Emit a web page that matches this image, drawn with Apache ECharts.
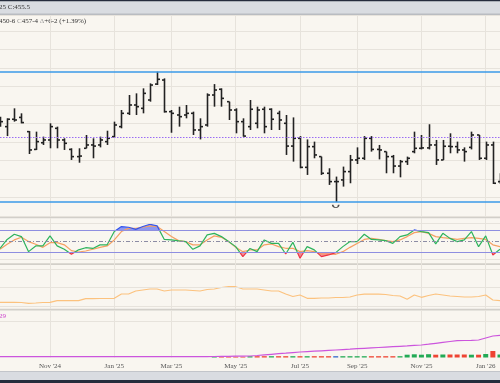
<!DOCTYPE html>
<html><head><meta charset="utf-8">
<script src="https://cdn.jsdelivr.net/npm/echarts@6/dist/echarts.min.js"></script>
<style>html,body{margin:0;padding:0;background:#f9f6f0}#c{width:500px;height:383px}</style>
</head><body><div id="c"></div><script>
const weeks = ['2024-09-16','2024-09-23','2024-09-30','2024-10-07','2024-10-14','2024-10-21','2024-10-28','2024-11-04','2024-11-11','2024-11-18','2024-11-25','2024-12-02','2024-12-09','2024-12-16','2024-12-23','2024-12-30','2025-01-06','2025-01-13','2025-01-20','2025-01-27','2025-02-03','2025-02-10','2025-02-17','2025-02-24','2025-03-03','2025-03-10','2025-03-17','2025-03-24','2025-03-31','2025-04-07','2025-04-14','2025-04-21','2025-04-28','2025-05-05','2025-05-12','2025-05-19','2025-05-26','2025-06-02','2025-06-09','2025-06-16','2025-06-23','2025-06-30','2025-07-07','2025-07-14','2025-07-21','2025-07-28','2025-08-04','2025-08-11','2025-08-18','2025-08-25','2025-09-01','2025-09-08','2025-09-15','2025-09-22','2025-09-29','2025-10-06','2025-10-13','2025-10-20','2025-10-27','2025-11-03','2025-11-10','2025-11-17','2025-11-24','2025-12-01','2025-12-08','2025-12-15','2025-12-22','2025-12-29','2026-01-05','2026-01-12','2026-01-19'];
const opens = [479.2,478.3,482.3,483.3,475.6,466.0,469.6,471.1,477.4,471.1,466.0,462.1,466.6,468.4,468.4,470.2,472.9,478.3,485.5,490.0,488.2,492.7,501.3,503.5,486.4,484.6,484.6,485.5,476.5,479.2,495.4,498.5,491.8,487.3,481.0,478.3,480.1,487.7,487.7,485.5,480.1,467.8,472.0,456.3,467.5,462.1,453.1,448.6,449.5,454.0,460.3,461.2,472.0,466.0,464.8,462.1,457.0,459.4,464.8,466.6,466.8,468.4,460.3,467.7,467.5,465.7,467.1,473.8,461.2,468.4,448.6];
const highs = [483.7,482.8,488.2,485.5,475.9,475.6,472.9,480.1,478.3,472.0,466.6,466.6,473.8,472.0,472.9,476.1,481.0,487.3,495.4,496.3,499.0,501.7,508.0,504.4,487.3,489.1,490.0,486.4,482.8,496.3,501.3,499.0,491.8,488.2,482.8,492.7,489.1,489.1,488.2,486.9,484.6,483.3,473.2,471.4,470.2,462.1,455.8,451.3,456.7,463.0,467.1,473.2,473.2,468.4,464.8,463.0,460.3,462.1,475.6,473.8,479.6,471.1,471.1,474.7,470.2,467.1,475.6,473.8,470.2,470.2,453.1];
const lows = [478.3,473.2,481.0,480.1,463.5,465.7,468.4,466.6,466.6,465.7,460.3,458.8,466.6,461.2,467.1,468.4,472.5,477.4,484.6,484.6,485.5,491.8,500.8,485.9,475.0,478.3,482.8,473.8,471.4,478.3,489.1,489.1,481.9,474.7,472.9,476.5,477.4,474.7,476.5,476.5,463.0,459.4,455.8,452.2,461.2,452.2,446.8,437.5,445.9,447.7,458.1,460.3,464.8,460.6,453.1,453.1,450.9,457.6,463.9,466.0,466.0,457.6,460.3,463.9,463.9,459.4,466.0,460.3,460.3,447.3,447.3];
const closes = [481.0,482.3,481.9,480.5,465.7,470.2,471.1,478.3,471.1,469.3,462.1,462.4,468.4,467.8,471.1,472.0,479.2,485.5,490.0,489.1,496.3,500.8,503.9,486.4,485.5,483.7,485.5,476.5,478.3,495.4,498.1,493.6,487.3,481.0,473.2,487.7,487.3,478.3,482.3,481.9,467.8,472.0,456.3,467.5,463.0,453.1,448.6,448.6,454.0,460.3,461.2,472.0,466.0,465.7,462.1,457.0,459.4,461.2,466.6,466.8,468.4,460.3,467.7,467.5,465.7,464.8,473.8,461.2,468.4,447.7,454.0];
const stochK = [30,55,69.5,63,21,37,37,65,37,27.6,13.6,26,32,30,40,40,77,91,89,83,91,97.4,92.8,55,53.7,50.9,49,27.6,37,67.6,72,63,49,35,7,30,21,53.7,44,44,14.5,47,2.5,35,26,7,11.8,18.3,35,49,49,69.5,55,53.7,51.8,44,63,67.6,81.6,77,74,42.5,72,58,49,53.7,77,35,65,11.8,27.6];
const stochD = [27.6,41.6,53.7,61,49,41.6,33,46,46,40,23.9,20,22.9,27.6,33,37,53.7,77,86,86,89,92.8,91,77,63,51.8,49,40,40,53.7,65,61,49,33,21,25.7,25.7,40,42.5,35,30.4,30.4,21,23.9,21,14.5,14.5,13.6,21,33,44,55,58,55,51.8,49,53.7,63,74,77,72,63,60,58,55,58,60,58,55,40,35];
const lowerLine = [6.7,6.7,6.7,6.5,5.7,6,6.5,6.7,8.3,8.3,8.5,8.3,10.3,10.3,10.5,10.5,10.7,15,15,18,19,20,20,18,19,19,19,18.5,18,19.5,20,21.5,22.3,22.3,20,20,20,19,18,18,15,12.5,14,10.7,10.7,11,11,11.5,11.5,12,14,14.8,14.8,14.8,14.5,13.5,13,9.7,14,11.7,13.5,15,14,13,12.5,12,12,12.5,14,9,8.3];
const volumes = [0,0,0,0,0,0,0,0,0,0,0,0,0,0,0,0,0,0,0,0,0,0,0,0,0,0,0,0,0,0,0.8,0.8,0.8,0.8,0.8,1.3,1.3,1.3,1.3,1.3,1.3,1.3,1.3,1.3,1.3,1.3,1.3,1.3,1.3,1.3,1.3,1.3,1.3,1.3,1.3,1.3,1.3,2.8,3.2,2.8,3.3,2.8,3,3,3,3,2.8,2.8,3.5,6.5,3];
const purpleLine = [0.8,0.8,0.8,0.8,0.8,0.8,0.8,0.8,0.8,0.8,0.8,0.8,0.8,0.8,0.8,0.8,0.8,0.8,0.8,0.8,0.8,0.8,0.8,0.8,0.8,0.8,0.8,0.8,0.8,0.9,1.0,1.1,1.2,1.3,1.4,1.5,2.0,2.6,3.2,3.8,4.3,4.9,5.5,5.9,6.3,6.7,7.1,7.5,7.9,8.3,8.8,9.2,9.6,10.0,10.4,10.8,11.2,11.6,12.1,12.5,13.3,14.2,15.1,16.0,16.8,17.0,17.2,17.5,19.5,21.5,22.2];
const monthNames = ['Jan','Feb','Mar','Apr','May','Jun','Jul','Aug','Sep','Oct','Nov','Dec'];

const ohlc = weeks.map((w, i) => [i, opens[i], highs[i], lows[i], closes[i]]);
const topHigh = Math.max(...highs);
const bottomLow = Math.min(...lows);
const lowIdx = lows.indexOf(bottomLow);
const midRange = (topHigh + bottomLow) / 2;

function isLabelWeek(i) {
  if (i === 0) return false;
  const m = +weeks[i].slice(5, 7), pm = +weeks[i - 1].slice(5, 7);
  return m !== pm && (m % 2 === 1);
}
const FONT = 'Liberation Serif';
const GRID_LINE = '#e7e3dc';
const xBase = (gi, showLabel) => ({
  type: 'category', gridIndex: gi, data: weeks, boundaryGap: false,
  axisLine: {show: false}, axisTick: {show: false},
  axisLabel: showLabel ? {
    show: true, interval: (i) => isLabelWeek(i), margin: 5, fontSize: 7, color: '#555', fontFamily: FONT,
    formatter: (v) => monthNames[+v.slice(5, 7) - 1] + " '" + v.slice(2, 4)
  } : {show: false},
  splitLine: {show: true, interval: (i) => isLabelWeek(i), lineStyle: {color: GRID_LINE, width: 1}}
});
const ml = (v, color, type, width) => ({yAxis: v, lineStyle: {color: color, type: type || 'solid', width: width || 1}});
const kPairs = stochK.map((v, i) => [i, v]);

const chart = echarts.init(document.getElementById('c'), null, {renderer: 'canvas'});
chart.setOption({
  animation: false,
  backgroundColor: '#f9f6f0',
  grid: [
    {left: 0, right: 0, top: 15, bottom: 167},
    {left: 0, right: 0, top: 218, bottom: 119},
    {left: 0, right: 0, top: 264, bottom: 74},
    {left: 0, right: 0, top: 310, bottom: 25.5}
  ],
  xAxis: [xBase(0, false), xBase(1, false), xBase(2, false), xBase(3, true)],
  yAxis: [
    {type: 'value', gridIndex: 0, min: 430, max: 538.65, interval: 10, axisLabel: {show: false}, axisLine: {show: false}, axisTick: {show: false}, splitLine: {lineStyle: {color: GRID_LINE}}},
    {type: 'value', gridIndex: 1, min: -13.4, max: 114.8, axisLabel: {show: false}, axisLine: {show: false}, axisTick: {show: false}, splitLine: {show: false}},
    {type: 'value', gridIndex: 2, min: 0, max: 45, axisLabel: {show: false}, axisLine: {show: false}, axisTick: {show: false}, splitLine: {show: false}},
    {type: 'value', gridIndex: 3, min: 0, max: 47.5, axisLabel: {show: false}, axisLine: {show: false}, axisTick: {show: false}, splitLine: {show: false}}
  ],
  visualMap: [
    {show: false, type: 'piecewise', seriesIndex: 2, dimension: 1, pieces: [{gte: -1000, lt: 20, color: '#ee3344'}, {gte: 20, lte: 80, color: '#2db35c'}, {gt: 80, lte: 1000, color: '#3355ee'}]},
    {show: false, type: 'piecewise', seriesIndex: 3, dimension: 1, pieces: [{gte: -1000, lte: 80, color: 'rgba(70,90,240,0)'}, {gt: 80, lte: 1000, color: 'rgba(70,90,240,0.6)'}]},
    {show: false, type: 'piecewise', seriesIndex: 4, dimension: 1, pieces: [{gte: -1000, lt: 20, color: 'rgba(240,60,80,0.55)'}, {gte: 20, lte: 1000, color: 'rgba(240,60,80,0)'}]}
  ],
  series: [
    { // 0 OHLC
      type: 'custom', xAxisIndex: 0, yAxisIndex: 0, data: ohlc, clip: false,
      encode: {x: 0, y: [1, 2, 3, 4]},
      renderItem: (params, api) => {
        const i = api.value(0);
        const pO = api.coord([i, api.value(1)]);
        const pH = api.coord([i, api.value(2)]);
        const pL = api.coord([i, api.value(3)]);
        const pC = api.coord([i, api.value(4)]);
        const x = Math.round(pO[0]) + 0.5;
        const w = 2.5;
        const st = {stroke: '#222', lineWidth: 1.6};
        return {type: 'group', children: [
          {type: 'line', shape: {x1: x, y1: pH[1], x2: x, y2: pL[1]}, style: st},
          {type: 'line', shape: {x1: x - w, y1: pO[1], x2: x, y2: pO[1]}, style: st},
          {type: 'line', shape: {x1: x, y1: pC[1], x2: x + w, y2: pC[1]}, style: st}
        ]};
      },
      markLine: {silent: true, symbol: 'none', label: {show: false}, data: [
        ml(topHigh, '#3a9ae8', 'solid', 1.5), ml(bottomLow, '#3a9ae8', 'solid', 1.5), ml(midRange, '#9a6cf4', [1.5, 1.5], 1)
      ]}
    },
    { // 1 low marker
      type: 'scatter', xAxisIndex: 0, yAxisIndex: 0, silent: true,
      data: [[lowIdx, bottomLow]],
      symbol: 'path://M0,0 A5,5 0 0 0 10,0', symbolSize: [6, 3], symbolOffset: [0, 4],
      itemStyle: {color: 'none', borderColor: '#222', borderWidth: 1.2}
    },
    { // 2 %K
      type: 'line', xAxisIndex: 1, yAxisIndex: 1, data: kPairs, showSymbol: false, silent: true,
      lineStyle: {width: 1.2}, z: 4
    },
    { // 3 blue fill
      type: 'line', xAxisIndex: 1, yAxisIndex: 1, data: kPairs, showSymbol: false, silent: true,
      lineStyle: {width: 0}, areaStyle: {origin: 80, opacity: 1}, z: 2
    },
    { // 4 red fill
      type: 'line', xAxisIndex: 1, yAxisIndex: 1, data: kPairs, showSymbol: false, silent: true,
      lineStyle: {width: 0}, areaStyle: {origin: 20, opacity: 1}, z: 2
    },
    { // 5 %D
      type: 'line', xAxisIndex: 1, yAxisIndex: 1, data: stochD, showSymbol: false, silent: true,
      lineStyle: {width: 1.2, color: '#f5a062'}, itemStyle: {color: '#f5a062'}, z: 3,
      markLine: {silent: true, symbol: 'none', label: {show: false}, data: [
        ml(100, GRID_LINE), ml(0, GRID_LINE), ml(80, '#8e8ee0'), ml(20, '#8e8ee0'), ml(50, '#8c8ca4', [4, 2, 1, 2])
      ]}
    },
    { // 6 lower panel line
      type: 'line', xAxisIndex: 2, yAxisIndex: 2, data: lowerLine, showSymbol: false, silent: true,
      lineStyle: {width: 1.2, color: '#fcc27e'}, itemStyle: {color: '#fcc27e'},
      markLine: {silent: true, symbol: 'none', label: {show: false}, data: [ml(3, GRID_LINE), ml(21.5, GRID_LINE), ml(40, GRID_LINE)]}
    },
    { // 7 volume
      type: 'bar', xAxisIndex: 3, yAxisIndex: 3, data: volumes, barWidth: 5, silent: true,
      itemStyle: {color: (p) => {
        const i = p.dataIndex;
        if (i === 0) return '#22aa55';
        if (closes[i] > closes[i - 1]) return '#22aa55';
        if (closes[i] < closes[i - 1]) return '#ee4433';
        return '#3366cc';
      }},
      markLine: {silent: true, symbol: 'none', label: {show: false}, data: [ml(35.8, GRID_LINE)]}
    },
    { // 8 purple line
      type: 'line', xAxisIndex: 3, yAxisIndex: 3, data: purpleLine, showSymbol: false, silent: true,
      lineStyle: {width: 1.2, color: '#cc55dd'}, itemStyle: {color: '#cc55dd'}
    }
  ],
  graphic: [
    {type: 'rect', shape: {x: 0, y: 0, width: 500, height: 14}, style: {fill: '#d9dce1'}, silent: true},
    {type: 'rect', shape: {x: 0, y: 0, width: 500, height: 1.2}, style: {fill: '#252c3c'}, silent: true},
    {type: 'rect', shape: {x: 0, y: 13.5, width: 500, height: 1.5}, style: {fill: '#b9bcc1'}, silent: true},
    {type: 'text', x: -1, y: 7, style: {text: '25 C:455.5', fontSize: 7, fontFamily: FONT, fill: '#333', verticalAlign: 'middle'}, silent: true},
    {type: 'text', x: -1, y: 21, style: {
      text: '{d|450-6 }{g|C}{d|457-4 }{g|\u0394}{d|+6-2 (+1.39%)}', verticalAlign: 'middle',
      rich: {d: {fontSize: 7, fontFamily: FONT, fill: '#333'}, g: {fontSize: 7, fontFamily: FONT, fill: '#999'}}
    }, silent: true},
    {type: 'rect', shape: {x: 0, y: 216.5, width: 500, height: 1.8}, style: {fill: '#d2cfc9'}, silent: true},
    {type: 'rect', shape: {x: 0, y: 263.3, width: 500, height: 1.8}, style: {fill: '#d2cfc9'}, silent: true},
    {type: 'rect', shape: {x: 0, y: 308.8, width: 500, height: 1.8}, style: {fill: '#d2cfc9'}, silent: true},
    {type: 'text', x: -1, y: 316, style: {text: '29', fontSize: 7, fontFamily: FONT, fill: '#cc44cc', verticalAlign: 'middle'}, silent: true},
    {type: 'rect', shape: {x: 0, y: 371.5, width: 500, height: 9}, style: {fill: '#d9dce1'}, silent: true},
    {type: 'rect', shape: {x: 0, y: 371, width: 500, height: 1}, style: {fill: '#c2c5ca'}, silent: true},
    {type: 'rect', shape: {x: 0, y: 380, width: 500, height: 3}, style: {fill: '#252c3c'}, silent: true}
  ]
});
</script></body></html>
